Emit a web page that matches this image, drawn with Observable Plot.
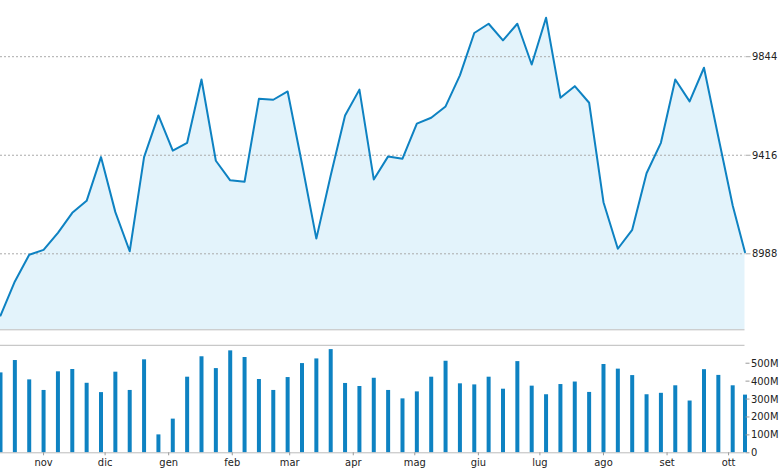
<!DOCTYPE html>
<html><head><meta charset="utf-8">
<script src="https://cdn.jsdelivr.net/npm/d3@7"></script>
<script src="https://cdn.jsdelivr.net/npm/@observablehq/plot@0.6"></script>
<style>
html,body{margin:0;padding:0;background:#fff;}
#chart svg{display:block;}
</style></head><body><div id="chart"></div>
<script>
const dates = ["2010-10-11","2010-10-18","2010-10-25","2010-11-01","2010-11-08","2010-11-15","2010-11-22","2010-11-29",
"2010-12-06","2010-12-13","2010-12-20","2010-12-27","2011-01-03","2011-01-10","2011-01-17","2011-01-24","2011-01-31",
"2011-02-07","2011-02-14","2011-02-21","2011-02-28","2011-03-07","2011-03-14","2011-03-21","2011-03-28",
"2011-04-04","2011-04-11","2011-04-18","2011-04-25","2011-05-02","2011-05-09","2011-05-16","2011-05-23","2011-05-30",
"2011-06-06","2011-06-13","2011-06-20","2011-06-27","2011-07-04","2011-07-11","2011-07-18","2011-07-25",
"2011-08-01","2011-08-08","2011-08-15","2011-08-22","2011-08-29","2011-09-05","2011-09-12","2011-09-19","2011-09-26",
"2011-10-03","2011-10-09"];
const prices = [8720, 8868, 8984, 9005, 9079, 9166, 9218, 9408, 9169, 8999,
  9408, 9589, 9436, 9470, 9745, 9392, 9307, 9301, 9661, 9657,
  9693, 9379, 9054, 9328, 9589, 9701, 9311, 9411, 9401, 9553,
  9579, 9628, 9763, 9947, 9987, 9915, 9987, 9810, 10013, 9666,
  9716, 9644, 9212, 9010, 9092, 9338, 9470, 9745, 9650, 9796,
  9495, 9198, 8995];
const volumesM = [446, 515, 407, 348, 452, 465, 388, 336, 450, 348,
  519, 100, 188, 422, 536, 470, 569, 532, 409, 348,
  420, 498, 524, 576, 387, 370, 416, 348, 301, 340,
  422, 511, 385, 379, 422, 355, 509, 372, 324, 381,
  395, 337, 493, 467, 431, 324, 332, 374, 289, 464,
  432, 374, 322];
const priceTicks = [8988, 9416, 9844];
const volumeTicksM = [0, 100, 200, 300, 400, 500];
const monthTicks = ["2010-11-01","2010-12-01","2011-01-01","2011-02-01","2011-03-01","2011-04-01",
  "2011-05-01","2011-06-01","2011-07-01","2011-08-01","2011-09-01","2011-10-01"];
const monthLabels = ["nov","dic","gen","feb","mar","apr","mag","giu","lug","ago","set","ott"];

const data = dates.map((d, i) => ({date: new Date(d), price: prices[i], volume: volumesM[i] * 1e6}));
const xDomain = [new Date("2010-10-11"), new Date("2011-10-09")];
const priceDomain = [8658, 10088];
const volDomain = [0, 600e6];
const labelOf = new Map(monthTicks.map((d, i) => [new Date(d).getTime(), monthLabels[i]]));
const font = "'DejaVu Sans Condensed','DejaVu Sans',sans-serif";
const style = {fontFamily: font, fontSize: "11px", color: "#222", background: "#fff", overflow: "visible"};
const blue = "#0e82c2";

const topPlot = Plot.plot({
  width: 780, height: 340,
  marginTop: 0, marginBottom: 10.7, marginLeft: 0, marginRight: 35.5,
  style,
  x: {domain: xDomain, axis: null},
  y: {domain: priceDomain, axis: null},
  marks: [
    Plot.areaY(data, {x: "date", y1: priceDomain[0], y2: "price", fill: "#e3f3fb"}),
    Plot.gridY(priceTicks, {stroke: "#aaa", strokeOpacity: 1, strokeDasharray: "2,2"}),
    Plot.ruleY([priceDomain[0]], {stroke: "#bbb"}),
    Plot.lineY(data, {x: "date", y: "price", stroke: blue, strokeWidth: 2}),
    Plot.axisY({anchor: "right", ticks: priceTicks, tickSize: 5, tickPadding: 2, stroke: "#aaa",
      tickFormat: d => String(d), label: null, fill: "#222"})
  ]
});

const botPlot = Plot.plot({
  width: 780, height: 130,
  marginTop: 4.8, marginBottom: 17.7, marginLeft: 0, marginRight: 35.5,
  style,
  x: {domain: xDomain},
  y: {domain: volDomain},
  marks: [
    Plot.ruleY([volDomain[1]], {stroke: "#bbb"}),
    Plot.ruleX(data, {x: "date", y1: 0, y2: "volume", stroke: blue, strokeWidth: 4}),
    Plot.ruleY([0], {stroke: "#bbb"}),
    Plot.axisY({anchor: "right", ticks: volumeTicksM.map(v => v * 1e6), tickSize: 4, tickPadding: 2,
      stroke: "#999", tickFormat: d => d === 0 ? "0" : (d / 1e6) + "M", label: null}),
    Plot.axisX({ticks: monthTicks.map(d => new Date(d)), tickSize: 3, tickPadding: 2, stroke: "#999",
      tickFormat: d => labelOf.get(d.getTime()), label: null})
  ]
});

document.getElementById("chart").append(topPlot, botPlot);
</script></body></html>
